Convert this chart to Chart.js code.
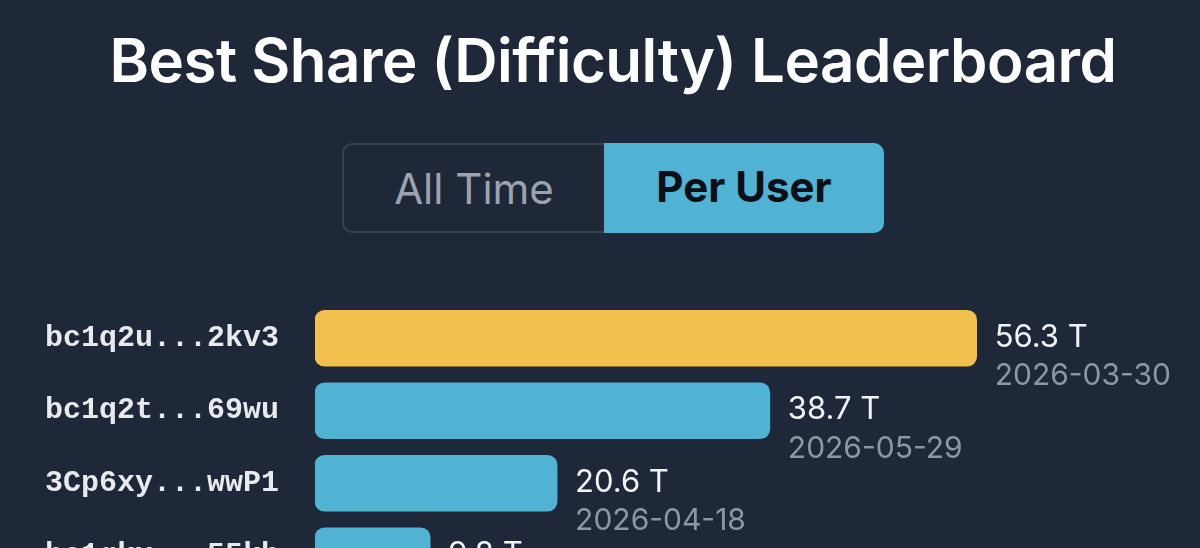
<!DOCTYPE html>
<html>
<head>
<meta charset="utf-8">
<script src="https://cdn.jsdelivr.net/npm/chart.js@4.4.1/dist/chart.umd.min.js"></script>
<style>
  html, body {
    margin: 0;
    padding: 0;
    width: 1200px;
    height: 548px;
    overflow: hidden;
    background: #1f2838;
    font-family: Inter, "Noto Sans", sans-serif;
  }
  h1 {
    position: absolute;
    top: 24px;
    left: 0;
    width: 1226px;
    margin: 0;
    text-align: center;
    color: #ffffff;
    font-size: 60px;
    font-weight: 600;
    letter-spacing: -0.5px;
  }
  .toggle {
    position: absolute;
    top: 143px;
    left: 342px;
    height: 90px;
    display: flex;
    z-index: 1;
  }
  .toggle div {
    box-sizing: border-box;
    height: 90px;
    line-height: 88px;
    text-align: center;
    font-size: 42px;
  }
  .tab-off {
    width: 262px;
    border: 2px solid #374151;
    border-right: none;
    border-radius: 10px 0 0 10px;
    color: #9ca3af;
  }
  .tab-on {
    width: 280px;
    background: #50b3d3;
    border-radius: 0 10px 10px 0;
    color: #0b0f16;
    font-weight: 700;
  }
  #chart {
    position: absolute;
    top: 256px;
    left: 0;
  }
</style>
</head>
<body>
<h1>Best Share (Difficulty) Leaderboard</h1>
<div class="toggle">
  <div class="tab-off">All Time</div>
  <div class="tab-on">Per User</div>
</div>
<canvas id="chart" width="1200" height="382"></canvas>
<script>
// данные таблицы лидеров
const users = ['bc1q2u...2kv3', 'bc1q2t...69wu', '3Cp6xy...wwP1', 'bc1qkx...55kh'];
const difficulty = [56.3, 38.7, 20.6, 9.8];   // в T
const dates = ['2026-03-30', '2026-05-29', '2026-04-18', '2026-04-02'];
const barColors = ['#f2c04c', '#50b3d3', '#50b3d3', '#50b3d3'];

// подписи справа от столбцов: значение и дата
const valueLabels = {
  id: 'valueLabels',
  afterDatasetsDraw(chart) {
    const ctx = chart.ctx;
    const meta = chart.getDatasetMeta(0);
    ctx.save();
    ctx.textAlign = 'left';
    ctx.textBaseline = 'middle';
    meta.data.forEach((bar, i) => {
      const x = bar.x + 18;
      ctx.font = '31px Inter, sans-serif';
      ctx.fillStyle = '#f1f3f6';
      ctx.fillText(difficulty[i].toFixed(1) + ' T', x, bar.y - 1);
      ctx.font = '30px Inter, sans-serif';
      ctx.fillStyle = '#8d96a6';
      ctx.fillText(dates[i], x, bar.y + 38);
    });
    ctx.restore();
  }
};

const ctx = document.getElementById('chart').getContext('2d');
const chart = new Chart(ctx, {
  type: 'bar',
  data: {
    labels: users,
    datasets: [{
      data: difficulty,
      backgroundColor: barColors,
      borderRadius: 10,
      borderSkipped: false,
      barThickness: 56
    }]
  },
  options: {
    indexAxis: 'y',
    responsive: false,
    animation: false,
    layout: { padding: { top: 12, right: 0, bottom: 2, left: 0 } },
    plugins: {
      legend: { display: false },
      tooltip: { enabled: false }
    },
    scales: {
      x: {
        display: false,
        min: 0,
        max: 75.3
      },
      y: {
        grid: { display: false },
        border: { display: false },
        afterFit(scale) { scale.width = 315; },
        ticks: {
          color: '#e8eaee',
          padding: 28,
          font: { family: '"Liberation Mono", "DejaVu Sans Mono", monospace', size: 30, weight: 'bold' }
        }
      }
    }
  },
  plugins: [valueLabels]
});
</script>
</body>
</html>
